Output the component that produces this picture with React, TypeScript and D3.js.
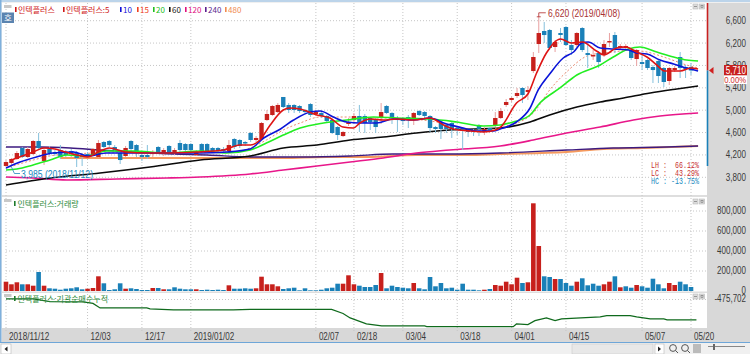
import React from "react";
import * as d3 from "d3";

// [open, high, low, close]
const candles: [number, number, number, number][] = [
  [4002,4109,3985,4073],[4056,4145,4020,4127],[4127,4270,4109,4234],[4324,4342,4145,4163],[4163,4342,4145,4306],
  [4216,4467,4199,4449],[4449,4592,4288,4324],[4091,4324,4020,4288],[4306,4360,4199,4234],[4252,4288,4181,4216],
  [4288,4377,4127,4163],[4252,4288,4163,4199],[4270,4306,4163,4216],[4234,4270,3984,4145],[4199,4234,4002,4163],
  [4216,4252,4145,4181],[4199,4324,4181,4306],[4163,4467,4145,4413],[4431,4449,4324,4342],[4449,4467,4342,4377],
  [4342,4377,4252,4288],[4234,4270,4038,4109],[4181,4360,4163,4324],[4449,4467,4270,4306],[4377,4395,4163,4252],
  [4199,4270,4091,4163],[4199,4377,4127,4163],[4216,4288,4163,4252],[4342,4360,4216,4252],[4216,4324,4181,4288],
  [4360,4377,4216,4252],[4234,4324,4199,4288],[4413,4467,4252,4288],[4395,4413,4252,4288],[4395,4413,4252,4288],
  [4199,4288,4181,4252],[4395,4413,4234,4270],[4395,4413,4234,4270],[4324,4342,4234,4270],[4324,4342,4234,4270],
  [4306,4342,4234,4270],[4270,4467,4234,4377],[4485,4503,4306,4342],[4467,4485,4324,4360],[4431,4449,4360,4413],
  [4592,4610,4431,4467],[4467,4538,4431,4503],[4485,4789,4467,4771],[4824,5003,4806,4932],[4914,5093,4896,5075],
  [4967,5128,4950,5093],[5236,5236,5039,5057],[5093,5128,4950,5003],[5093,5110,4950,5003],[5075,5093,4950,4985],
  [5003,5021,4932,4967],[5110,5128,4878,4914],[4932,5003,4896,4967],[4950,4967,4860,4896],[4896,4914,4789,4806],
  [4824,4842,4574,4592],[4699,4717,4467,4556],[4538,4628,4520,4610],[4753,4860,4717,4789],[4824,4950,4753,4896],
  [4896,5093,4610,4789],[4896,4932,4592,4771],[4860,4878,4646,4789],[4824,4860,4592,4699],[4878,5128,4753,4967],
  [5075,5093,4932,4950],[4950,4967,4753,4878],[4860,4896,4610,4824],[4860,4878,4735,4806],[4878,4914,4681,4824],
  [4860,4967,4735,4950],[4985,5003,4896,4914],[4967,4985,4860,4896],[4896,4914,4610,4681],[4699,4717,4592,4664],
  [4771,4789,4485,4664],[4735,4753,4592,4664],[4771,4789,4503,4664],[4681,4699,4556,4646],[4681,4699,4288,4628],
  [4646,4664,4520,4610],[4646,4664,4538,4610],[4735,4753,4538,4664],[4610,4699,4556,4664],[4681,4699,4610,4646],
  [4717,4967,4699,4860],[4860,5039,4842,4985],[5093,5200,5057,5146],[5182,5236,5146,5218],[5254,5397,5218,5307],
  [5397,5414,5128,5271],[5325,5432,5182,5361],[5700,6040,5665,5951],[6183,6670,6022,6380],[6416,6577,6201,6344],
  [6434,6452,6076,6112],[6130,6255,6040,6219],[6380,6469,6219,6344],[6487,6505,6148,6165],[6165,6255,5987,6076],
  [6165,6398,6130,6380],[6469,6487,6040,6076],[6022,6201,5754,5987],[5969,6076,5897,5987],[6022,6058,5754,5861],
  [5987,6255,5951,6183],[6219,6380,6130,6237],[6344,6398,6022,6112],[6112,6183,6076,6148],[6112,6183,6076,6148],
  [6076,6112,5897,5933],[5915,6094,5790,6076],[5861,5987,5718,5826],[5897,5915,5718,5754],[5772,5808,5486,5718],
  [5879,5897,5486,5611],[5754,5772,5414,5504],[5522,5772,5450,5754],[5718,5790,5683,5754],[5951,6040,5575,5754],
  [5772,5808,5575,5736],[5772,5844,5629,5710],
];

const volumes = [
  93,67,87,67,67,53,190,53,27,23,13,23,27,37,17,23,30,147,77,10,17,77,23,27,20,10,10,30,30,17,17,37,23,17,17,17,10,13,10,13,10,57,23,23,27,23,
  27,143,67,67,47,20,27,33,7,27,7,7,13,27,33,73,73,157,67,53,40,40,60,180,27,53,40,33,27,80,27,17,140,47,80,27,33,13,73,13,13,7,13,20,60,
  53,93,67,133,80,87,877,450,147,140,120,120,80,53,93,127,57,73,53,67,93,147,37,47,33,60,47,33,123,67,27,80,60,93,67,40,
];
const upVolumeDays = new Set([0,1,2,4,5,7,15,16,17,22,27,29,35,41,46,47,48,49,50,62,63,64,69,75,88,90,91,92,93,94,96,97,98,101,105,110,111,113,116,122,123]);

type Pt = [number, number];
const ma5: Pt[] = [[1,4109],[5,4252],[7,4324],[9,4306],[11,4252],[13,4199],[15,4163],[17,4252],[19,4324],[22,4252],[26,4234],[29,4234],[35,4252],[40,4288],[43,4377],[45,4377],[46.7,4467],[48.6,4735],[51,5003],[52.2,5039],[54.1,5021],[57.2,4914],[59.6,4860],[62,4699],[63.9,4681],[65.1,4771],[67,4842],[69.4,4824],[71.9,4842],[75,4824],[78,4860],[80.5,4735],[82.3,4664],[85.4,4628],[87.8,4610],[90,4646],[91,4699],[93.9,5128],[96,5289],[97.6,5665],[99.4,6022],[102,6273],[104,6201],[106,6219],[108.6,6058],[110,5987],[112.3,6112],[114,6130],[116,6040],[117.9,5951],[119.7,5808],[121.2,5700],[124,5700],[126,5754],[127.3,5736]];
const ma10: Pt[] = [[0,3966],[2.6,4073],[5.6,4163],[8.7,4234],[12.4,4252],[15.1,4181],[18.5,4234],[23.4,4234],[27.7,4234],[35.7,4234],[40.6,4252],[44.9,4306],[47.4,4503],[50.5,4664],[52.9,4824],[56,4967],[57.8,4985],[60.2,4878],[62.7,4789],[65.1,4771],[68.2,4771],[71.2,4842],[75,4824],[78,4860],[80.5,4771],[84.1,4681],[86.6,4628],[89.6,4628],[90.9,4664],[93.9,4789],[96.4,5039],[97.9,5361],[100,5647],[102.5,5933],[104.4,6040],[105.9,6201],[107.1,6219],[109.3,6112],[111.7,6094],[114.5,6076],[116,6022],[117.9,6004],[120.3,5897],[122.8,5826],[125.2,5754],[127.3,5700]];
const ma15: Pt[] = [[0.7,3984],[5,4109],[9.3,4199],[17.3,4234],[41.8,4252],[44.9,4324],[47.9,4467],[51,4646],[54.1,4771],[57.8,4878],[63.3,4878],[66.4,4860],[69.4,4860],[74.3,4842],[79.2,4789],[84.1,4664],[87.8,4628],[90.9,4699],[94.5,4789],[97,4950],[100,5361],[103.1,5683],[107.4,5987],[111.7,6040],[114.8,6076],[117.9,6040],[121.5,5933],[125.2,5808],[127.3,5754]];
const ma20: Pt[] = [[0,3930],[2,3948],[5,4020],[8.1,4109],[11.2,4199],[14.8,4181],[18.5,4270],[23.4,4270],[29.6,4234],[35.7,4270],[40.6,4234],[44.9,4288],[47.9,4413],[51,4556],[54.1,4681],[58.4,4771],[62.7,4824],[67.6,4878],[71.9,4860],[78,4842],[82.9,4789],[87.8,4717],[90.9,4735],[93.3,4789],[96.4,4914],[98.2,5128],[101.9,5397],[105,5629],[109.3,5808],[111.7,5951],[114.5,6094],[116.6,6130],[119.7,6040],[122.8,5951],[125.2,5897],[127.3,5879]];
const ma60: Pt[] = [[0,3662],[8.1,3787],[17.3,3877],[26.5,3984],[35.7,4109],[44.9,4181],[51,4324],[57.2,4377],[63.3,4467],[69.4,4520],[75.5,4592],[81.6,4646],[90.9,4681],[96.4,4789],[100,4914],[105,5057],[109.3,5146],[113.6,5218],[118.5,5307],[123.4,5379],[127.3,5432]];
const ma120: Pt[] = [[0,3805],[5,3787],[11.2,3752],[20.4,3770],[29.6,3787],[35.7,3805],[44.9,3859],[51,3930],[57.2,4002],[63.3,4073],[69.4,4145],[75.5,4234],[81.6,4288],[90.9,4360],[97,4467],[103.1,4592],[109.3,4699],[115.4,4824],[120.3,4896],[127.3,4950]];
const ma240: Pt[] = [[0,4342],[6.3,4342],[11.8,4324],[17.3,4288],[23.4,4252],[30.8,4216],[37,4199],[44.9,4163],[54,4163],[63.3,4181],[71.2,4216],[81.6,4216],[90.9,4234],[103.1,4288],[111.7,4324],[121.5,4342],[127.3,4360]];
const ma480: Pt[] = [[10,4145],[44.9,4145],[51,4145],[59,4163],[66.4,4163],[75.5,4199],[84.7,4199],[90.9,4216],[103.1,4252],[109.9,4306],[117.3,4324],[127.3,4360]];
const netBuy: Pt[] = [[0,-485000],[5,-485000],[8.1,-512000],[14.2,-515000],[16,-530000],[17.3,-575000],[25.9,-575000],[26.5,-585000],[30.8,-595000],[41.8,-595000],[44.9,-590000],[59.9,-590000],[62,-630000],[63.3,-675000],[66.3,-735000],[69.1,-755000],[77,-755000],[77.4,-762000],[90.9,-762000],[93.3,-762000],[93.9,-735000],[96,-742000],[97.3,-702000],[99.4,-675000],[101,-702000],[102.2,-685000],[109.3,-665000],[110.5,-652000],[114.8,-652000],[116,-665000],[118.5,-685000],[121,-685000],[121.6,-695000],[127,-695000]];

const priceTicks = [6600,6200,5800,5400,5000,4600,4200,3800];
const volumeTicks = [800000,600000,400000,200000,0];
const dateTicks: [number,string][] = [[0,"2018/11/12"],[15,"12/03"],[25,"12/17"],[34,"2019/01/02"],[57,"02/07"],[64,"02/18"],[73,"03/04"],[83,"03/18"],[93,"04/01"],[103,"04/15"],[117,"05/07"],[126,"05/20"]];
const legendItems: [string,string,number][] = [["인텍플러스","#d01818",15],["인텍플러스:5","#d01818",63],["10","#1010d8",120],["15","#f04020",137],["20","#20c020",153],["60","#111111",169],["120","#e0107f",185],["240","#5a1f90",205],["480","#f08a50",225]];
const stats: [string,string,string][] = [["LH :","66.12%","#c83030"],["LC :","43.29%","#c83030"],["HC :","-13.75%","#2088c0"]];

const RED = "#c7201c", BLUE = "#1a80b8", RED_W = "#e8a0a0", BLUE_W = "#85c0dc";
const KR = "'Noto Sans CJK KR','Noto Sans',sans-serif";
const NUM = "'Liberation Sans',Arial,sans-serif";

const x = d3.scaleLinear().domain([0,126]).range([6,691]);
const yP = d3.scaleLinear().domain([6600,3800]).range([20.7,177.3]);
const yV = d3.scaleLinear().domain([0,800000]).range([291,211]);
const yN = d3.scaleLinear().domain([-475702,-775702]).range([298,328]);

const lineP = d3.line<Pt>().x(d=>x(d[0])).y(d=>yP(d[1])).curve(d3.curveMonotoneX);
const lineN = d3.line<Pt>().x(d=>x(d[0])).y(d=>yN(d[1]));

const backSeries: [Pt[],string,number,string?][] = [
  [ma480,"#f59a5e",2],[ma240,"#3c1a80",1.4],[ma120,"#e8178a",1.6],[ma60,"#0a0a0a",1.6],[ma15,"#ec8a70",1,"2 2"],
];
const frontSeries: [Pt[],string][] = [[ma20,"#22ee22"],[ma10,"#0a14d8"],[ma5,"#de1414"]];

const numLen = (s:string)=>{
  let w=0;
  for(const c of s) w += (c===","||c==="."||c==="/"||c==="-") ? 2.6 : (c==="%"?6:4.4);
  return w;
};
function Num({x:px,y,s,anchor,fill,size=10}:{x:number,y:number,s:string,anchor?:string,fill:string,size?:number}){
  const len = numLen(s);
  const left = anchor==="end" ? px-len : px;
  return <text x={left} y={y} fontFamily={NUM} fontSize={size} fill={fill} textLength={len} lengthAdjust="spacingAndGlyphs">{s}</text>;
}

function Btns({px,py}:{px:number,py:number}){
  return <g>
    <rect x={px} y={py} width={5} height={5} fill="#dcdcdc" stroke="#b8b8b8" strokeWidth={0.6}/>
    <line x1={px+1} x2={px+4} y1={py+2.5} y2={py+2.5} stroke="#777" strokeWidth={0.7}/>
    <rect x={px+6.5} y={py} width={5} height={5} fill="#dcdcdc" stroke="#b8b8b8" strokeWidth={0.6}/>
    <rect x={px+8} y={py+1.5} width={2} height={2} fill="none" stroke="#777" strokeWidth={0.6}/>
  </g>;
}

export default function App(){
  const grid = "#c6c6c6";
  const axisC = "#3a3a3a";
  return (
    <svg width={750} height={354} style={{position:"absolute",left:0,top:0,background:"#fff"}}>
      <rect x={0} y={0} width={750} height={354} fill="#f0f0f0"/>
      <rect x={2} y={3} width={705} height={325} fill="#fff"/>
      <rect x={707} y={3} width={43} height={325} fill="#d8d8d8"/>
      <rect x={0} y={0} width={750} height={2} fill="#bcd4ea"/>
      <rect x={0} y={0} width={1.5} height={343} fill="#7fb0dc"/>
      <rect x={2} y={195} width={705} height={2} fill="#dedede"/>
      <rect x={2} y={291.5} width={705} height={1.5} fill="#dedede"/>
      <rect x={2} y={328} width={748} height={14} fill="#d8d8d8"/>
      <rect x={0} y={342} width={750} height={1} fill="#6ea6d8"/>

      <g stroke={grid} strokeWidth={1} strokeDasharray="1 2">
        {priceTicks.map(p=><line key={p} x1={6} x2={707} y1={yP(p)} y2={yP(p)}/>)}
        {volumeTicks.slice(0,4).map(v=><line key={v} x1={6} x2={707} y1={yV(v)} y2={yV(v)}/>)}
        <line x1={6} x2={707} y1={299.5} y2={299.5}/>
        {dateTicks.map(([i,l])=><line key={l} x1={x(i)} x2={x(i)} y1={3} y2={333}/>)}
      </g>

      {backSeries.map(([d,c,w,dash],k)=><path key={k} d={lineP(d)!} fill="none" stroke={c} strokeWidth={w} strokeDasharray={dash}/>)}

      {candles.map(([o,h,l,c],i)=>{
        const up = c>=o;
        const t = yP(Math.max(o,c)), b = yP(Math.min(o,c));
        return <g key={i}>
          <line x1={x(i)} x2={x(i)} y1={yP(h)} y2={yP(l)} stroke={up?RED_W:BLUE_W} strokeWidth={1}/>
          <rect x={x(i)-2.2} y={t} width={4.4} height={Math.max(b-t,1.5)} fill={up?RED:BLUE}/>
        </g>;
      })}
      {frontSeries.map(([d,c],k)=><path key={k} d={lineP(d)!} fill="none" stroke={c} strokeWidth={1.6}/>)}

      <path d={`M${x(98)-2},${yP(6670)}H${x(98)+2}M${x(98)},${yP(6670)}V${yP(6670)-4}H${x(98)+7}`} fill="none" stroke="#b02828" strokeWidth={0.8}/>
      <text x={548} y={17} fontFamily={NUM} fontSize={10} fill="#a83030" textLength={72} lengthAdjust="spacingAndGlyphs">6,620 (2019/04/08)</text>
      <path d={`M${x(1)},${yP(3985)}L${x(1)+3},173.5H20`} fill="none" stroke="#2088c0" strokeWidth={0.8}/>
      <text x={21} y={177.5} fontFamily={NUM} fontSize={10} fill="#2088c0" textLength={72} lengthAdjust="spacingAndGlyphs">3,985 (2018/11/12)</text>

      {stats.map(([a,b,c],i)=><g key={a} fontFamily="'Liberation Mono',monospace" fontSize={9.5} fill={c}>
        <text x={651} y={168+i*8} textLength={16} lengthAdjust="spacingAndGlyphs">{a}</text>
        <text x={699-b.length*4} y={168+i*8} textLength={b.length*4} lengthAdjust="spacingAndGlyphs">{b}</text>
      </g>)}

      {volumes.map((v,i)=>(
        <rect key={i} x={x(i)-2.3} y={yV(v*1000)} width={4.6} height={291-yV(v*1000)} fill={upVolumeDays.has(i)?RED:BLUE}/>
      ))}

      <path d={lineN(netBuy)!} fill="none" stroke="#0f6a1c" strokeWidth={1.2}/>

      <rect x={4} y={5} width={7.5} height={3} fill="#c8c8c8"/>
      <rect x={2} y={12.5} width={12} height={10.5} fill="#5b84b0"/>
      <text x={8} y={21} textAnchor="middle" fontFamily={KR} fontSize={8.5} fill="#fff">호</text>
      {legendItems.map(([t,c,px])=><g key={t}>
        <rect x={px} y={7} width={1.6} height={5} fill={c}/>
        <text x={px+3} y={12.5} fontFamily={KR} fontSize={8} fill={c}>{t}</text>
      </g>)}
      <rect x={4} y={199} width={7.5} height={3} fill="#c8c8c8"/>
      <rect x={14} y={201} width={1.6} height={5} fill="#1d7a2a"/>
      <text x={17.5} y={206.5} fontFamily={KR} fontSize={8} fill="#2d8a3a">인텍플러스:거래량</text>
      <rect x={4} y={294} width={7.5} height={3} fill="#c8c8c8"/>
      <rect x={14} y={296} width={1.6} height={5} fill="#1d7a2a"/>
      <text x={17.5} y={301.5} fontFamily={KR} fontSize={8} fill="#2d8a3a">인텍플러스:기관순매수누적</text>
      <Btns px={693} py={4}/>
      <Btns px={693} py={199}/>
      <Btns px={693} py={294}/>

      {priceTicks.map(p=><Num key={p} x={746} y={yP(p)+3.5} anchor="end" fill={axisC} s={d3.format(",")(p)}/>)}
      {volumeTicks.map(v=><Num key={v} x={746} y={yV(v)+2.5} anchor="end" fill={axisC} s={d3.format(",")(v)}/>)}
      <Num x={746} y={302} anchor="end" fill={axisC} s="-475,702"/>

      <line x1={707.5} x2={707.5} y1={3} y2={yP(5710)} stroke="#c82020" strokeWidth={1.6}/>
      <line x1={707.5} x2={707.5} y1={yP(5710)} y2={166} stroke="#1a80b8" strokeWidth={1.6}/>
      <path d={`M709,${yP(5710)}L713.5,${yP(5710)-3.5}V${yP(5710)+3.5}Z`} fill="#d02020"/>
      <rect x={724} y={65} width={23} height={10.5} fill="#c8201e"/>
      <rect x={724} y={75.5} width={23} height={8.5} fill="#fff"/>
      <Num x={746} y={74} anchor="end" fill="#fff" s="5,710"/>
      <Num x={746} y={83} anchor="end" fill="#d03030" s="0.00%" size={9.5}/>

      {dateTicks.map(([i,l])=><Num key={l} x={x(i)+3} y={340} fill={axisC} s={l}/>)}

      <rect x={1} y={344} width={10} height={10} fill="#fff" stroke="#aaa" strokeWidth={0.5}/>
      <path d="M7.5,346.5L4.5,349L7.5,351.5Z" fill="#222"/>
      <rect x={572} y={344} width={81} height={10} fill="#e8e8e8" stroke="#c4c4c4" strokeWidth={0.5}/>
      <rect x={655} y={344} width={9} height={10} fill="#fff" stroke="#aaa" strokeWidth={0.5}/>
      <path d="M658,346.5L661,349L658,351.5Z" fill="#222"/>
      {[673,685].map(c=><g key={c} fill="none" stroke="#555" strokeWidth={1}>
        <circle cx={c} cy={348} r={3.4}/><line x1={c+2.5} y1={350.5} x2={c+5} y2={353}/>
      </g>)}
      <rect x={693} y={344} width={8} height={9} fill="#bbb"/>
      <line x1={708} x2={745} y1={346.5} y2={346.5} stroke="#888"/>
      <rect x={713} y={344} width={2} height={6} fill="#666"/>
    </svg>
  );
}
